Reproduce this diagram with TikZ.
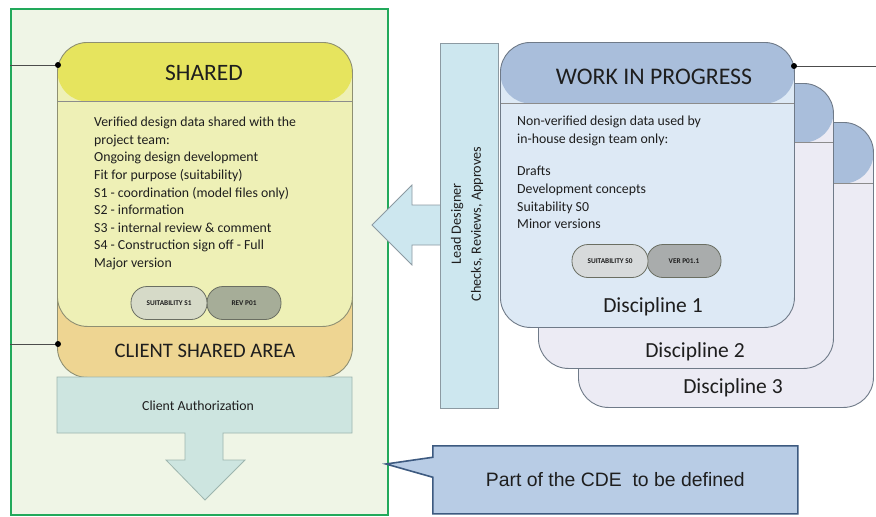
\documentclass[tikz,border=0pt]{standalone}
\usepackage{fontspec}
\setmainfont{Carlito}
\newfontfamily\arialfont{Liberation Sans}
\usetikzlibrary{shapes.callouts}

\definecolor{frameGreen}{HTML}{22A95B}
\definecolor{frameFill}{HTML}{EFF5E6}
\definecolor{sharedHead}{HTML}{E6E45E}
\definecolor{sharedBody}{HTML}{EEF0B6}
\definecolor{clientArea}{HTML}{EED592}
\definecolor{authFill}{HTML}{CDE5E0}
\definecolor{authLine}{HTML}{9DB5AE}
\definecolor{wipHead}{HTML}{A9BEDB}
\definecolor{wipBody}{HTML}{DDE9F5}
\definecolor{discBody}{HTML}{ECEBF4}
\definecolor{leadFill}{HTML}{CDE7EF}
\definecolor{leadLine}{HTML}{8C9AA2}
\definecolor{calloutFill}{HTML}{B8CCE5}
\definecolor{calloutLine}{HTML}{3D5A80}
\definecolor{boxLine}{HTML}{8E8F72}
\definecolor{blueLine}{HTML}{6F7A88}
\definecolor{pillLight}{HTML}{D6DAC8}
\definecolor{pillDark}{HTML}{A6AD98}
\definecolor{pillLightB}{HTML}{D7DADB}
\definecolor{pillDarkB}{HTML}{A9ACAC}
\definecolor{pillLine}{HTML}{6A6E62}
\definecolor{ink}{HTML}{1E1E1E}

\tikzset{
  panel/.style={draw=#1, line width=0.9pt, rounded corners=30pt, inner sep=0pt,
    anchor=north west},
  header/.style 2 args={path picture={
    \fill[#1] (path picture bounding box.north west)
      rectangle ([yshift=-#2]path picture bounding box.north east);
    \draw[line width=0.9pt, draw=black!45]
      ([yshift=-#2]path picture bounding box.north west)
      -- ([yshift=-#2]path picture bounding box.north east);}},
  title/.style={text=ink, font=\fontsize{#1}{#1}\selectfont, inner sep=0pt},
  bodytext/.style={text=ink, align=left, anchor=north west, inner sep=0pt,
    font=\fontsize{13.8}{17.6}\selectfont},
  pill/.style={draw=pillLine, line width=0.8pt, rounded corners=16pt,
    minimum height=33pt, inner sep=0pt, text=ink,
    font=\bfseries\fontsize{7.3}{7.3}\selectfont},
  wire/.style={draw=black!70, line width=0.7pt},
  joint/.style={fill=black},
}

\begin{document}
\begin{tikzpicture}[x=1pt, y=-1pt]
\useasboundingbox (0,0) rectangle (876,517);
\fill[white] (0,0) rectangle (876,517);

% CDE frame around the shared area
\node[draw=frameGreen, line width=2pt, fill=frameFill, anchor=north west,
  minimum width=377pt, minimum height=506pt, inner sep=0pt] (frame) at (10,8) {};

% client shared area behind the shared container
\node[panel=boxLine, fill=clientArea, minimum width=295pt, minimum height=127pt]
  (client) at (57,250) {};
\node[title=20.6] (clientlbl) at (205,351) {CLIENT SHARED AREA};

% shared container
\node[panel=boxLine, fill=sharedBody, header={sharedHead}{59pt},
  minimum width=295pt, minimum height=284pt] (shared) at (57,42) {};
\node[title=23.5] (sharedtitle) at (204,73) {SHARED};
\node[bodytext] (sharedtext) at (94,117) {Verified design data shared with the\\
  project team:\\
  Ongoing design development\\
  Fit for purpose (suitability)\\
  S1 - coordination (model files only)\\
  S2 - information\\
  S3 - internal review \& comment\\
  S4 - Construction sign off - Full\\
  Major version};
\node[pill, fill=pillDark, minimum width=74pt] (revpill) at (244,303) {REV P01};
\node[pill, fill=pillLight, minimum width=76pt] (suitpill) at (169,303) {SUITABILITY S1};

% client authorization arrow
\path[fill=authFill, draw=authLine, line width=0.8pt]
  (57,377) -- (352,377) -- (352,433) -- (223,433) -- (223,460) -- (245,460)
  -- (205,500) -- (166,460) -- (185,460) -- (185,433) -- (57,433) -- cycle;
\node[title=13.8] (authlbl) at (198,406) {Client Authorization};

% connector lines with joints
\coordinate (jointA) at (58,65);
\coordinate (jointB) at (58,344);
\draw[wire] (frame.west |- jointA) -- (jointA);
\draw[wire] (frame.west |- jointB) -- (jointB);
\fill[joint] (jointA) circle (3pt);
\fill[joint] (jointB) circle (3pt);

% lead designer approval arrow
\path[fill=leadFill, draw=leadLine, line width=0.8pt]
  (441,205) -- (412,205) -- (412,185) -- (372,225) -- (412,265) -- (412,245) -- (441,245);
\node[draw=leadLine, line width=0.8pt, fill=leadFill, anchor=north west,
  minimum width=58pt, minimum height=365pt, inner sep=0pt] (lead) at (440,43) {};
\node[rotate=90, align=center, text=ink, inner sep=0pt,
  font=\fontsize{14.2}{20}\selectfont] (leadlbl) at (467,224)
  {Lead Designer\\Checks, Reviews, Approves};

% work in progress stack
\node[panel=blueLine, fill=discBody, header={wipHead}{61pt},
  minimum width=295pt, minimum height=285pt] (disc3) at (578,122) {};
\node[panel=blueLine, fill=discBody, header={wipHead}{59pt},
  minimum width=295pt, minimum height=285pt] (disc2) at (538,83) {};
\node[panel=blueLine, fill=wipBody, header={wipHead}{61pt},
  minimum width=294pt, minimum height=285pt] (wip) at (500,42) {};
\node[title=23.8] (wiptitle) at (654,77) {WORK IN PROGRESS};
\node[bodytext] (wiptext) at (517,116) {Non-verified design data used by\\
  in-house design team only:\\[15pt]
  Drafts\\
  Development concepts\\
  Suitability S0\\
  Minor versions};
\node[pill, fill=pillDarkB, minimum width=74pt] (verpill) at (684,261) {VER P01.1};
\node[pill, fill=pillLightB, minimum width=76pt] (suit0pill) at (610,261) {SUITABILITY S0};
\node[title=21.5] (disc1lbl) at (653,307) {Discipline 1};
\node[title=21.5] (disc2lbl) at (695,352) {Discipline 2};
\node[title=21.5] (disc3lbl) at (733,388) {Discipline 3};

\coordinate (jointC) at (794,66);
\coordinate (rightEnd) at (876,66);
\draw[wire] (jointC) -- (rightEnd);
\fill[joint] (jointC) circle (3pt);

% callout
\coordinate (calloutTip) at (386,464);
\node[rectangle callout, draw=calloutLine, fill=calloutFill, line width=1.6pt,
  anchor=north west, minimum width=365pt, minimum height=68pt, inner sep=0pt,
  callout absolute pointer={(calloutTip)}, callout pointer width=20pt,
  text=ink, font=\arialfont\fontsize{19.4}{20}\selectfont] (cde) at (432,445)
  {Part of the CDE\ \ to be defined};
\end{tikzpicture}
\end{document}
